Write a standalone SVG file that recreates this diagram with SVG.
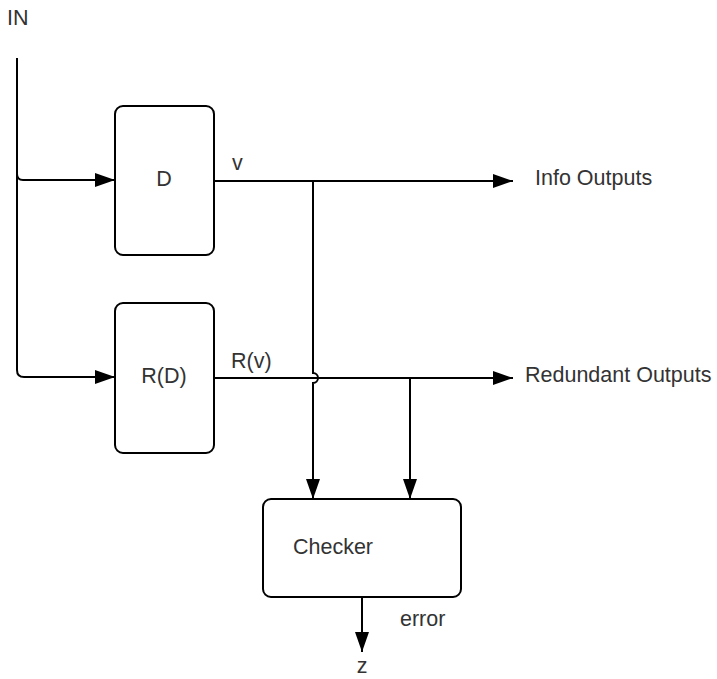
<svg xmlns="http://www.w3.org/2000/svg" width="717" height="679" viewBox="0 0 717 679">
<style>
.box{fill:#fff;stroke:#000;stroke-width:2}
.ln{fill:none;stroke:#000;stroke-width:2}
.t{font-family:"Liberation Sans",Arial,sans-serif;font-size:21.5px;fill:#333}
.c{text-anchor:middle}
</style>
<defs>
<marker id="ah" markerWidth="20" markerHeight="14" refX="20" refY="7" orient="auto" markerUnits="userSpaceOnUse">
<path d="M0,0 L20,7 L0,14 Z" fill="#000"/>
</marker>
</defs>
<g id="connectors">
<path class="ln" d="M17,58 L17,370 Q17,377 24,377 L115,377" marker-end="url(#ah)"/>
<path class="ln" d="M17,174 Q17,180 23,180 L115,180" marker-end="url(#ah)"/>
<path class="ln" d="M214,181 L513,181" marker-end="url(#ah)"/>
<path class="ln" d="M214,378 L513,378" marker-end="url(#ah)"/>
<path class="ln" d="M313,181 L313,373 A5,5 0 0 1 313,383 L313,499" marker-end="url(#ah)"/>
<path class="ln" d="M410,378 L410,499" marker-end="url(#ah)"/>
<path class="ln" d="M362,597 L362,652" marker-end="url(#ah)"/>
</g>
<g id="in-label"><text class="t" x="7" y="25">IN</text></g>
<g id="D">
<rect class="box" x="115" y="106" width="99" height="149" rx="8"/>
<text class="t c" x="164" y="186">D</text>
</g>
<g id="RD">
<rect class="box" x="115" y="303" width="99" height="150" rx="8"/>
<text class="t c" x="164" y="383">R(D)</text>
</g>
<g id="checker">
<rect class="box" x="263" y="499" width="198" height="98" rx="8"/>
<text class="t c" x="333" y="554">Checker</text>
</g>
<g id="labels">
<text class="t" x="232" y="170">v</text>
<text class="t" x="535" y="185">Info Outputs</text>
<text class="t" x="231" y="368">R(v)</text>
<text class="t" x="525" y="382">Redundant Outputs</text>
<text class="t" x="400" y="626">error</text>
<text class="t c" x="362" y="673">z</text>
</g>
</svg>
